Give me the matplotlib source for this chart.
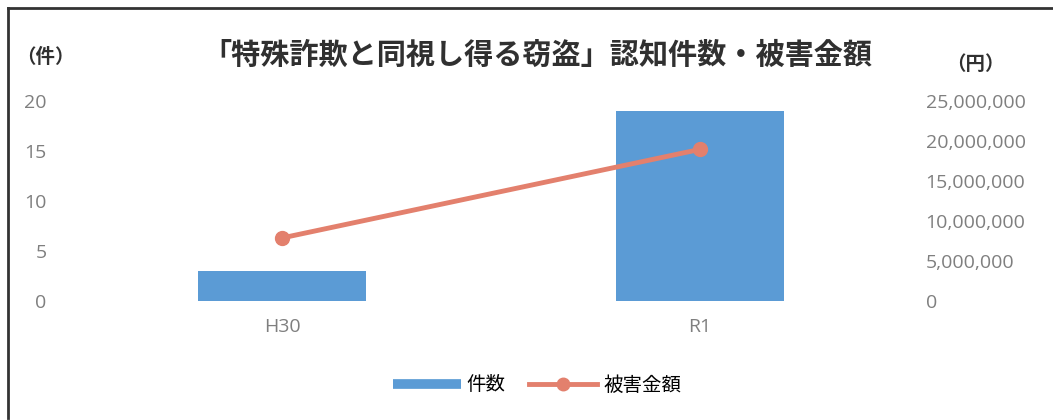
import matplotlib.pyplot as plt
from matplotlib.ticker import FuncFormatter
from matplotlib.lines import Line2D

plt.rcParams['font.family'] = ['Noto Sans CJK JP', 'DejaVu Sans']

categories = ['H30', 'R1']
cases = [3, 19]                    # 件数
damage = [7900000, 19000000]       # 被害金額 (円)
left_ticks = [0, 5, 10, 15, 20]
right_ticks = [0, 5000000, 10000000, 15000000, 20000000, 25000000]

bar_color = '#5b9bd5'
line_color = '#e3806d'
tick_color = '#7f7f7f'
num_font = ['Open Sans', 'DejaVu Sans']

fig = plt.figure(figsize=(10.53, 4.2), dpi=100)
ax = fig.add_axes([73 / 1053, 119 / 420, 836 / 1053, 199.5 / 420])
ax2 = ax.twinx()

x = range(len(categories))
ax.bar(x, cases, width=0.4, color=bar_color, zorder=1)
ax2.plot(x, damage, color=line_color, lw=3.5, marker='o', ms=10,
         markerfacecolor=line_color, markeredgecolor=line_color, zorder=3)

ax.set_xlim(-0.5, 1.5)
ax.set_ylim(0, 20)
ax2.set_ylim(0, 25000000)
ax.set_xticks(list(x))
ax.set_xticklabels(categories)
ax.set_yticks(left_ticks)
ax2.set_yticks(right_ticks)
ax2.yaxis.set_major_formatter(FuncFormatter(lambda v, p: f'{int(v):,}'))

for a in (ax, ax2):
    for s in a.spines.values():
        s.set_visible(False)
    a.tick_params(length=0, labelsize=14, colors=tick_color)
ax.tick_params(axis='y', pad=19)
ax.tick_params(axis='x', pad=12)
ax2.tick_params(axis='y', pad=12)
for lbl in ax.get_yticklabels() + ax.get_xticklabels():
    lbl.set_family(num_font)
for lbl in ax2.get_yticklabels():
    lbl.set_family(num_font)
    lbl.set_horizontalalignment('left')

fig.text(537 / 1053, 1 - 55 / 420, '「特殊詐欺と同視し得る窃盗」認知件数・被害金額',
         ha='center', va='center', fontsize=21, fontweight='bold', color='#303030')
fig.text(45 / 1053, 1 - 57 / 420, '（件）', ha='center', va='center',
         fontsize=14, fontweight='bold', color='#303030')
fig.text(975 / 1053, 1 - 65 / 420, '（円）', ha='center', va='center',
         fontsize=14, fontweight='bold', color='#303030')

handles = [Line2D([], [], color=bar_color, lw=7, solid_capstyle='butt'),
           Line2D([], [], color=line_color, lw=3.5, marker='o', ms=9)]
fig.legend(handles, ['件数', '被害金額'], loc='center',
           bbox_to_anchor=(537 / 1053, 1 - 385 / 420), ncol=2, frameon=False,
           fontsize=14, handlelength=3.5, handletextpad=0.3, columnspacing=1.2)

# frame of the chart area
fig.add_artist(Line2D([8 / 1053, 8 / 1053], [0.005, 1 - 8 / 420],
                      transform=fig.transFigure, color='#333333', lw=2))
fig.add_artist(Line2D([8 / 1053, 1.0], [1 - 8 / 420, 1 - 8 / 420],
                      transform=fig.transFigure, color='#333333', lw=2))

fig.savefig('out.png', dpi=100)
